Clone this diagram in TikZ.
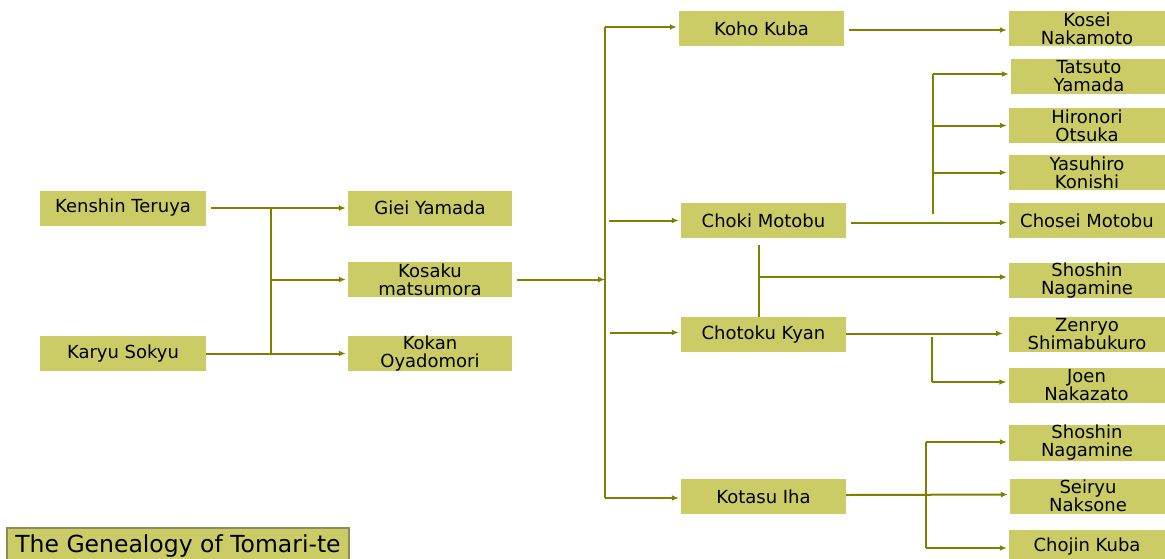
\documentclass[tikz,border=0pt]{standalone}
\usepackage{fontspec}
\setmainfont{DejaVu Sans}
\usetikzlibrary{arrows.meta}
\definecolor{boxfill}{RGB}{204,204,102}
\definecolor{linecol}{RGB}{128,128,0}
\definecolor{titleborder}{RGB}{140,140,90}
\begin{document}
\begin{tikzpicture}[x=1pt,y=-1pt,
  box/.style={fill=boxfill, inner sep=0pt, minimum height=35pt, align=center,
    font=\fontsize{18}{18}\selectfont},
  lbox/.style={box, minimum width=166pt},
  mbox/.style={box, minimum width=164pt},
  cbox/.style={box, minimum width=165pt},
  rbox/.style={box, minimum width=156pt},
  conn/.style={draw=linecol, line width=2pt},
  vconn/.style={draw=linecol, line width=2.6pt},
  arr/.style={conn, -{Latex[length=7pt,width=6pt]}, shorten >=2pt},
  titlebox/.style={fill=boxfill, draw=titleborder, line width=1.2pt, inner sep=0pt,
    minimum width=342pt, minimum height=37pt, font=\fontsize{23.5}{26}\selectfont}
]
\useasboundingbox (0,0) rectangle (1165,558);

% left column
\node[lbox] (kt) at (123,208) {Kenshin Teruya};
\node[lbox] (ks) at (123,353.5) {Karyu Sokyu};
% middle column
\node[mbox] (gy) at (430,208) {Giei Yamada};
\node[mbox] (km) at (430,279.5) {Kosaku\\matsumora};
\node[mbox] (ko) at (430,353.5) {Kokan\\Oyadomori};
% third column
\node[cbox] (kk) at (761.5,28.5) {Koho Kuba};
\node[cbox] (cm) at (763.5,220.5) {Choki Motobu};
\node[cbox] (ck) at (763.5,334.5) {Chotoku Kyan};
\node[cbox] (ki) at (763.5,496.5) {Kotasu Iha};
% right column
\node[rbox] (kn) at (1087,28.5) {Kosei\\Nakamoto};
\node[rbox] (ty) at (1089,76.5) {Tatsuto\\Yamada};
\node[rbox] (ho) at (1087,125.5) {Hironori\\Otsuka};
\node[rbox] (yk) at (1087,172.5) {Yasuhiro\\Konishi};
\node[rbox] (chm) at (1087,220.5) {Chosei Motobu};
\node[rbox] (sn1) at (1087,280.5) {Shoshin\\Nagamine};
\node[rbox] (zs) at (1087,334.5) {Zenryo\\Shimabukuro};
\node[rbox] (jn) at (1086.5,385.5) {Joen\\Nakazato};
\node[rbox] (sn2) at (1087,443) {Shoshin\\Nagamine};
\node[rbox] (sn) at (1088,496) {Seiryu\\Naksone};
\node[rbox] (cjk) at (1087,547) {Chojin Kuba};
% title
\node[titlebox] (title) at (178,546.5) {The Genealogy of Tomari-te};

% junction coordinates
\coordinate (v1t) at (271,208);
\coordinate (v1b) at (271,355);
\coordinate (trm) at (605,279.5);
\coordinate (tt) at (605,27);
\coordinate (tb) at (605,498);
\coordinate (v2t) at (933,74);
\coordinate (v2b) at (933,214);
\coordinate (v3t) at (759,245);
\coordinate (v3m) at (759,277);
\coordinate (v4t) at (932,337);
\coordinate (v4b) at (932,382);
\coordinate (v5t) at (926,442);
\coordinate (v5b) at (926,548);

% left part
\draw[arr, shorten <=5pt] (kt.east) -- (gy.west);
\draw[arr, shorten <=0pt] (ks.east) -- (ko.west);
\draw[vconn] (v1t) -- (v1b);
\draw[arr] (v1t |- km) -- (km.west);
\draw[arr, shorten <=5pt, shorten >=0pt] (km.east) -- (trm);

% trunk
\draw[vconn] (tt) -- (tb);
\draw[arr] (tt) -- (tt -| kk.west);
\draw[arr, shorten <=4pt] (tt |- cm) -- (cm.west);
\draw[arr, shorten <=5pt] ([yshift=2pt]tt |- ck) -- ([yshift=2pt]ck.west);
\draw[arr] (tb) -- (tb -| ki.west);

% Koho Kuba
\draw[arr, shorten <=5pt] ([yshift=-1.5pt]kk.east) -- ([yshift=-1.5pt]kn.west);

% Choki Motobu
\draw[arr, shorten <=5pt] ([yshift=-2pt]cm.east) -- ([yshift=-2pt]chm.west);
\draw[vconn] (v2b) -- (v2t);
\draw[arr] (v2t) -- (v2t -| ty.west);
\draw[arr] (v2t |- ho) -- (ho.west);
\draw[arr] (v2t |- yk) -- (yk.west);

% Chotoku Kyan
\draw[vconn] (ck.north -| v3t) -- (v3t);
\draw[arr] (v3m) -- (v3m -| sn1.west);
\draw[arr] ([yshift=1pt]ck.east) -- ([yshift=1pt,xshift=-4pt]zs.west);
\draw[vconn] (v4t) -- (v4b);
\draw[arr] (v4b) -- (v4b -| jn.west);

% Kotasu Iha
\draw[arr] ([yshift=1.5pt]ki.east) -- ([yshift=1.5pt]sn.west);
\draw[vconn] (v5t) -- (v5b);
\draw[arr] (v5t) -- (v5t -| sn2.west);
\draw[arr] (v5b) -- (v5b -| cjk.west);
\end{tikzpicture}
\end{document}
